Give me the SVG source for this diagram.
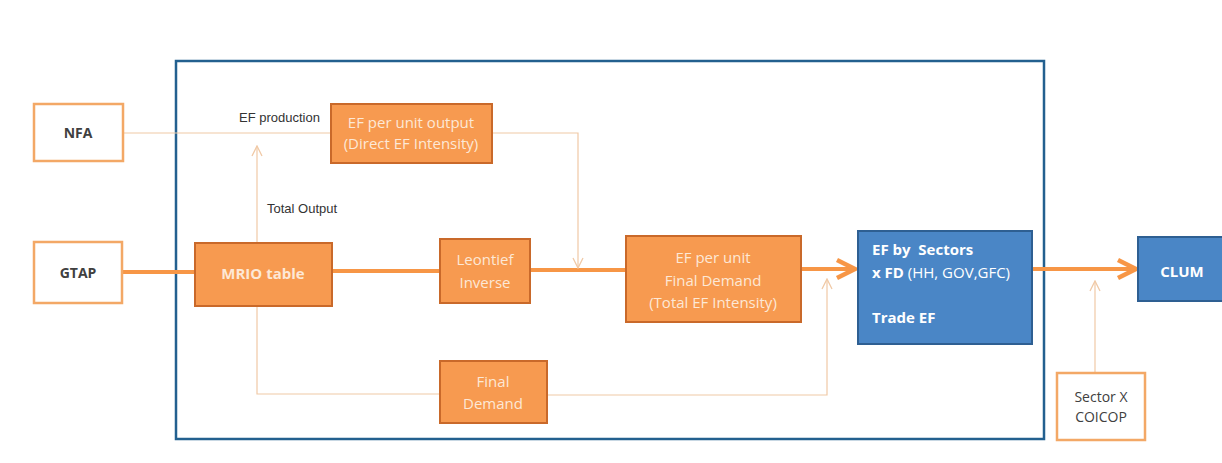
<svg xmlns="http://www.w3.org/2000/svg" width="1222" height="463" viewBox="0 0 1222 463">
<defs>
<style>
.obox{fill:#F79A50;stroke:#C9692A;stroke-width:2}
.wbox{fill:#FFFFFF;stroke:#F3A866;stroke-width:2.5}
.bbox{fill:#4A86C6;stroke:#2E5F92;stroke-width:2}
.ot{font-family:"Open Sans","Liberation Sans",sans-serif;font-size:15px;fill:#FDE8D6;text-anchor:middle}
.dt{font-family:"Open Sans","Liberation Sans",sans-serif;font-size:14px;fill:#404040;text-anchor:middle}
.lbl{font-family:"Liberation Sans",sans-serif;font-size:13px;fill:#333333}
.bt{font-family:"Open Sans","Liberation Sans",sans-serif;font-size:15px;fill:#FFFFFF}
.thick{stroke:#F79646;stroke-width:4;fill:none}
.thin{stroke:#F0C9A6;stroke-width:1.2;fill:none}
</style>
<marker id="thinArrow" viewBox="0 0 12 12" refX="11" refY="6" markerWidth="12" markerHeight="12" markerUnits="userSpaceOnUse" orient="auto">
<path d="M1,1 L11,6 L1,11" fill="none" stroke="#F0C9A6" stroke-width="1.3"/>
</marker>
<marker id="thickArrow" viewBox="0 0 24 24" refX="21" refY="12" markerWidth="24" markerHeight="24" markerUnits="userSpaceOnUse" orient="auto">
<path d="M3,3 L21,12 L3,21" fill="none" stroke="#F79646" stroke-width="4.5" stroke-linejoin="miter"/>
</marker>
</defs>
<rect x="0" y="0" width="1222" height="463" fill="#FFFFFF"/>
<rect id="frame" x="176" y="61" width="868" height="378" fill="none" stroke="#23608F" stroke-width="2.5"/>

<g id="connectors">
<line class="thick" x1="123" y1="272" x2="196" y2="272"/>
<line class="thick" x1="332" y1="271" x2="440" y2="271"/>
<line class="thick" x1="530" y1="270" x2="626" y2="270"/>
<line class="thick" x1="801" y1="269" x2="855" y2="269" marker-end="url(#thickArrow)"/>
<line class="thick" x1="1032" y1="269" x2="1136" y2="269" marker-end="url(#thickArrow)"/>
<line class="thin" x1="123" y1="133" x2="331" y2="133"/>
<line class="thin" x1="257" y1="243" x2="257" y2="146" marker-end="url(#thinArrow)"/>
<polyline class="thin" points="492,133 578,133 578,268" marker-end="url(#thinArrow)"/>
<polyline class="thin" points="257,306 257,394 440,394"/>
<polyline class="thin" points="547,395 827,395 827,279" marker-end="url(#thinArrow)"/>
<line class="thin" x1="1095" y1="373" x2="1095" y2="281" marker-end="url(#thinArrow)"/>
<text class="lbl" x="239" y="122">EF production</text>
<text class="lbl" x="267" y="213">Total Output</text>
</g>

<g id="nfa"><rect class="wbox" x="34" y="104" width="89" height="57"/><text class="dt" x="78" y="138" font-weight="bold">NFA</text></g>
<g id="gtap"><rect class="wbox" x="34" y="242" width="88" height="61"/><text class="dt" x="78" y="278" font-weight="bold">GTAP</text></g>
<g id="ef-output"><rect class="obox" x="331" y="104" width="161" height="59"/><text class="ot" x="411" y="128">EF per unit output</text><text class="ot" x="411" y="149">(Direct EF Intensity)</text></g>
<g id="mrio"><rect class="obox" x="195" y="243" width="137" height="63"/><text class="ot" x="263" y="279" font-weight="bold" font-size="14">MRIO table</text></g>
<g id="leontief"><rect class="obox" x="440" y="239" width="90" height="64"/><text class="ot" x="485" y="265">Leontief</text><text class="ot" x="485" y="288">Inverse</text></g>
<g id="ef-fd"><rect class="obox" x="626" y="236" width="175" height="86"/><text class="ot" x="713" y="263">EF per unit</text><text class="ot" x="713" y="286">Final Demand</text><text class="ot" x="713" y="308">(Total EF Intensity)</text></g>
<g id="final-demand"><rect class="obox" x="440" y="361" width="107" height="62"/><text class="ot" x="493" y="387">Final</text><text class="ot" x="493" y="409">Demand</text></g>
<g id="ef-sectors"><rect class="bbox" x="858" y="231" width="174" height="113"/>
<text class="bt" x="872" y="255" font-weight="bold" xml:space="preserve">EF by  Sectors</text>
<text class="bt" x="872" y="278"><tspan font-weight="bold">x FD</tspan> (HH, GOV,GFC)</text>
<text class="bt" x="872" y="323" font-weight="bold">Trade EF</text></g>
<g id="clum"><rect class="bbox" x="1138" y="237" width="90" height="64"/><text class="bt" x="1182" y="277" font-size="18" font-weight="bold" text-anchor="middle">CLUM</text></g>
<g id="sector-coicop"><rect class="wbox" x="1057" y="373" width="88" height="67"/><text class="dt" x="1101" y="402">Sector X</text><text class="dt" x="1101" y="422">COICOP</text></g>
</svg>
